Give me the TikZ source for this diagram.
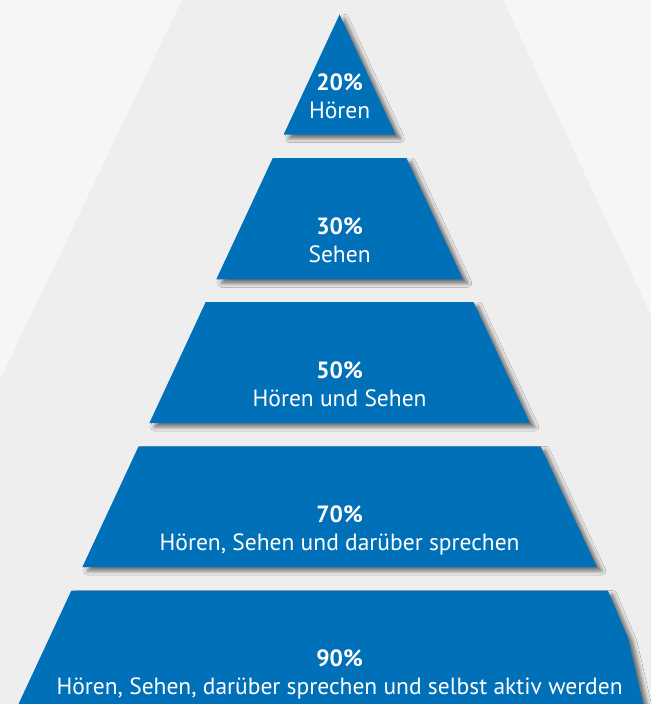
\documentclass[tikz,border=0pt]{standalone}
\usepackage{fontspec}
\setmainfont{PT Sans}
\usetikzlibrary{shadows.blur}
\definecolor{pyrblue}{RGB}{0,112,184}
\definecolor{bgout}{RGB}{245,246,246}
\definecolor{bgin}{RGB}{238,238,238}

\begin{document}
\begin{tikzpicture}[x=1pt, y=-1pt,
  tier/.style = {fill=pyrblue,
    blur shadow={shadow xshift=5pt, shadow yshift=-4pt,
      shadow blur radius=4pt, shadow opacity=55}},
  every node/.style = {text=white, anchor=base, inner sep=0pt,
    font=\fontsize{23.5}{28}\selectfont},
  pct/.style = {font=\fontsize{23.5}{28}\selectfont\bfseries}]
  \useasboundingbox (0,0) rectangle (651,704);
  \clip (0,0) rectangle (651,704);
  % background
  \fill[bgout] (0,0) rectangle (651,704);
  \fill[bgin] (182,0) -- (503,0) -- (651,315) -- (651,704)
    -- (0,704) -- (0,380) -- cycle;
  % pyramid
  \fill[tier] (339.6,14.4) -- (395.6,134.7) -- (283.6,134.7) -- cycle;
  \fill[tier] (272.8,158) -- (406.4,158) -- (462.9,279.3) -- (216.3,279.3) -- cycle;
  \fill[tier] (205.7,302) -- (473.5,302) -- (529.8,423) -- (149.4,423) -- cycle;
  \fill[tier] (138.6,446.3) -- (540.6,446.3) -- (596.8,567) -- (82.4,567) -- cycle;
  \fill[tier] (71.4,590.5) -- (607.8,590.5) -- (628,638) -- (645,712)
    -- (14.8,712) -- cycle;
  % labels
  \node[pct] (p20) at (339.6,90) {20\%};
  \node (t20) at (339.6,118) {Hören};
  \node[pct] (p30) at (339.6,234.5) {30\%};
  \node (t30) at (339.6,262.5) {Sehen};
  \node[pct] (p50) at (339.6,378.5) {50\%};
  \node (t50) at (339.6,406.5) {Hören und Sehen};
  \node[pct] (p70) at (339.6,522) {70\%};
  \node (t70) at (339.6,550) {Hören, Sehen und darüber sprechen};
  \node[pct] (p90) at (339.6,666.5) {90\%};
  \node (t90) at (339.6,694.5) {Hören, Sehen, darüber sprechen und selbst aktiv werden};
\end{tikzpicture}
\end{document}
